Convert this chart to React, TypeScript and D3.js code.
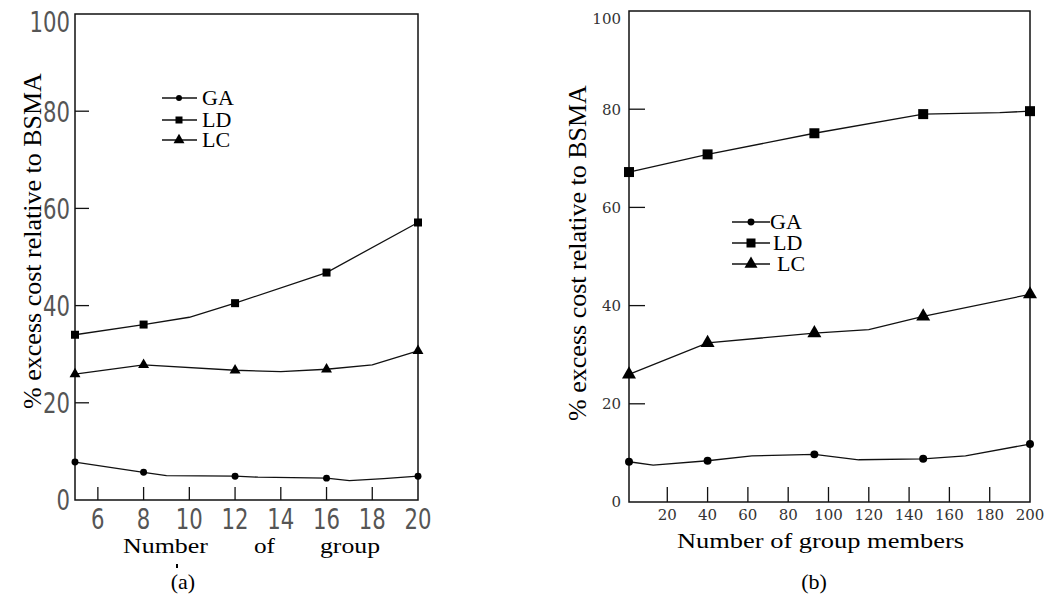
import React, { useEffect, useRef } from 'react'
import * as d3 from 'd3'

// panel (a): x = number of group members (small range)
const aMarkX = [5, 8, 12, 16, 20]
const aGAx = [5, 8, 9, 12, 13, 16, 17, 18.5, 20]
const aGA = [7.8, 5.7, 5.0, 4.9, 4.7, 4.5, 4.0, 4.4, 4.9]
const aLDx = [5, 8, 10, 12, 16, 20]
const aLD = [34.0, 36.1, 37.6, 40.5, 46.8, 57.1]
const aLCx = [5, 8, 12, 14, 16, 18, 20]
const aLC = [25.9, 27.8, 26.7, 26.4, 26.9, 27.8, 30.7]
const aXTicks = [6, 8, 10, 12, 14, 16, 18, 20]

// panel (b)
const bMarkX = [1, 40, 93, 147, 200]
const bGAx = [1, 13, 40, 62, 93, 115, 147, 168, 200]
const bGA = [8.2, 7.5, 8.4, 9.4, 9.7, 8.6, 8.8, 9.4, 11.8]
const bLDx = [1, 40, 93, 147, 185, 200]
const bLD = [67.2, 70.8, 75.1, 79.0, 79.3, 79.6]
const bLCx = [1, 40, 93, 120, 147, 200]
const bLC = [26.0, 32.4, 34.4, 35.1, 37.8, 42.3]
const bXTicks = [20, 40, 60, 80, 100, 120, 140, 160, 180, 200]

const yTicks = [0, 20, 40, 60, 80, 100]
const seriesNames = ['GA', 'LD', 'LC']
const yLabel = '% excess cost relative to BSMA'

const SERIF = "'Liberation Serif', 'Times New Roman', serif"

const App = () => {
  const ref = useRef<SVGSVGElement>(null)

  useEffect(() => {
    const svg = d3.select(ref.current)
    svg.selectAll('*').remove()

    const panels = [
      {
        x: d3.scaleLinear().domain([5, 20]).range([75, 418]),
        y: d3.scaleLinear().domain([0, 100]).range([500, 14]),
        xTicks: aXTicks,
        series: [
          { xs: aGAx, ys: aGA },
          { xs: aLDx, ys: aLD },
          { xs: aLCx, ys: aLC },
        ],
        marks: aMarkX,
        sizes: [38, 64, 52],
        legendSizes: [28, 49, 52],
        tickLen: 14,
        tickFont: "'DejaVu Sans', sans-serif",
        tickSize: 29,
        digitW: 13.5, // narrow, light digits in the original
        tickFill: '#555',
        yTickRight: 70,
        xTickBase: 529,
        legend: { x1: 162, x2: 197, mx: 179, ys: [98, 120, 140], tx: [202, 202, 202], size: 22 },
        ylabX: 41,
        ylabY: 241,
      },
      {
        x: d3.scaleLinear().domain([1, 200]).range([629, 1030]),
        y: d3.scaleLinear().domain([0, 100]).range([502, 11]),
        xTicks: bXTicks,
        series: [
          { xs: bGAx, ys: bGA },
          { xs: bLDx, ys: bLD },
          { xs: bLCx, ys: bLC },
        ],
        marks: bMarkX,
        sizes: [50, 100, 85],
        legendSizes: [38, 81, 73],
        tickLen: 16,
        tickFont: "'DejaVu Serif', serif",
        tickSize: 15,
        digitW: 0,
        tickFill: '#333',
        yTickRight: 621,
        xTickBase: 520,
        legend: { x1: 732, x2: 770, mx: 751, ys: [222, 243, 264], tx: [770, 773, 777], size: 22 },
        ylabX: 586,
        ylabY: 253,
      },
    ]
    const symbols = [d3.symbolCircle, d3.symbolSquare, d3.symbolTriangle]

    panels.forEach(p => {
      const [x0, x1] = p.x.range()
      const [yb, yt] = p.y.range()
      const g = svg.append('g')

      g.append('rect') // frame
        .attr('x', x0)
        .attr('y', yt)
        .attr('width', x1 - x0)
        .attr('height', yb - yt)
        .attr('fill', 'none')
        .attr('stroke', '#111')
        .attr('stroke-width', 1.5)

      g.selectAll('.yt')
        .data(yTicks.filter(v => v > 0 && v < 100))
        .enter()
        .append('line')
        .attr('x1', x0)
        .attr('x2', x0 + p.tickLen)
        .attr('y1', d => p.y(d))
        .attr('y2', d => p.y(d))
        .attr('stroke', '#111')
        .attr('stroke-width', 1.3)

      g.selectAll('.xt')
        .data(p.xTicks.filter(v => p.x(v) < x1 - 1))
        .enter()
        .append('line')
        .attr('x1', d => p.x(d))
        .attr('x2', d => p.x(d))
        .attr('y1', yb)
        .attr('y2', yb - p.tickLen + 1)
        .attr('stroke', '#111')
        .attr('stroke-width', 1.3)

      const yl = g.selectAll('.yl')
        .data(yTicks)
        .enter()
        .append('text')
        .text(d => d)
        .attr('x', p.yTickRight)
        .attr('y', d => Math.max(p.y(d), yt + 8))
        .attr('dy', '0.36em')
        .attr('text-anchor', 'end')
        .attr('font-family', p.tickFont)
        .attr('font-size', p.tickSize)
        .attr('fill', p.tickFill)

      const xl = g.selectAll('.xl')
        .data(p.xTicks)
        .enter()
        .append('text')
        .text(d => d)
        .attr('x', d => p.x(d))
        .attr('y', p.xTickBase)
        .attr('text-anchor', 'middle')
        .attr('font-family', p.tickFont)
        .attr('font-size', p.tickSize)
        .attr('fill', p.tickFill)

      if (p.digitW) {
        yl.attr('textLength', d => String(d).length * p.digitW).attr('lengthAdjust', 'spacingAndGlyphs')
        xl.attr('textLength', d => String(d).length * p.digitW).attr('lengthAdjust', 'spacingAndGlyphs')
      }

      p.series.forEach((s, i) => {
        const pts = s.xs.map((v, k) => [v, s.ys[k]] as [number, number])
        g.append('path')
          .datum(pts)
          .attr('fill', 'none')
          .attr('stroke', '#111')
          .attr('stroke-width', 1.3)
          .attr('d', d3.line<[number, number]>().x(d => p.x(d[0])).y(d => p.y(d[1])))

        g.selectAll(`.m${i}`)
          .data(pts.filter(d => p.marks.includes(d[0])))
          .enter()
          .append('path')
          .attr('transform', d => `translate(${p.x(d[0])},${p.y(d[1])})`)
          .attr('d', d3.symbol().type(symbols[i]).size(p.sizes[i]))
          .attr('fill', '#000')
      })

      // legend
      const L = p.legend
      seriesNames.forEach((name, i) => {
        g.append('line')
          .attr('x1', L.x1)
          .attr('x2', L.x2)
          .attr('y1', L.ys[i])
          .attr('y2', L.ys[i])
          .attr('stroke', '#111')
          .attr('stroke-width', 1.3)
        g.append('path')
          .attr('transform', `translate(${L.mx},${L.ys[i]})`)
          .attr('d', d3.symbol().type(symbols[i]).size(p.legendSizes[i]))
          .attr('fill', '#000')
        g.append('text')
          .text(name)
          .attr('x', L.tx[i])
          .attr('y', L.ys[i] + 7)
          .attr('font-family', SERIF)
          .attr('font-size', L.size)
          .attr('fill', '#000')
      })

      g.append('text') // ylab
        .text(yLabel)
        .attr('transform', `translate(${p.ylabX},${p.ylabY}) rotate(-90)`)
        .attr('text-anchor', 'middle')
        .attr('font-family', SERIF)
        .attr('font-size', 26)
        .attr('fill', '#000')
    })

    // panel (a) x label: justified words, the wrapped second line is cut off
    const words = [
      { t: 'Number', x: 123, w: 85 },
      { t: 'of', x: 254, w: 21 },
      { t: 'group', x: 320, w: 60 },
    ]
    words.forEach(w => {
      svg.append('text')
        .text(w.t)
        .attr('x', w.x)
        .attr('y', 553)
        .attr('textLength', w.w)
        .attr('lengthAdjust', 'spacingAndGlyphs')
        .attr('font-family', SERIF)
        .attr('font-size', 21)
        .attr('fill', '#000')
    })
    svg.append('rect') // stub of the hidden line
      .attr('x', 176)
      .attr('y', 564)
      .attr('width', 2)
      .attr('height', 4)
      .attr('fill', '#000')

    svg.append('text')
      .text('Number of group members')
      .attr('x', 677)
      .attr('y', 548)
      .attr('textLength', 287)
      .attr('lengthAdjust', 'spacingAndGlyphs')
      .attr('font-family', SERIF)
      .attr('font-size', 21)
      .attr('fill', '#000')

    svg.append('text')
      .text('(a)')
      .attr('x', 183)
      .attr('y', 589)
      .attr('text-anchor', 'middle')
      .attr('font-family', SERIF)
      .attr('font-size', 22)
      .attr('fill', '#000')
    svg.append('text')
      .text('(b)')
      .attr('x', 814)
      .attr('y', 589)
      .attr('text-anchor', 'middle')
      .attr('font-family', SERIF)
      .attr('font-size', 22)
      .attr('fill', '#000')
  }, [])

  return (
    <svg
      ref={ref}
      width={1050}
      height={598}
      style={{ position: 'absolute', left: 0, top: 0, background: '#fff' }}
    />
  )
}

export default App
